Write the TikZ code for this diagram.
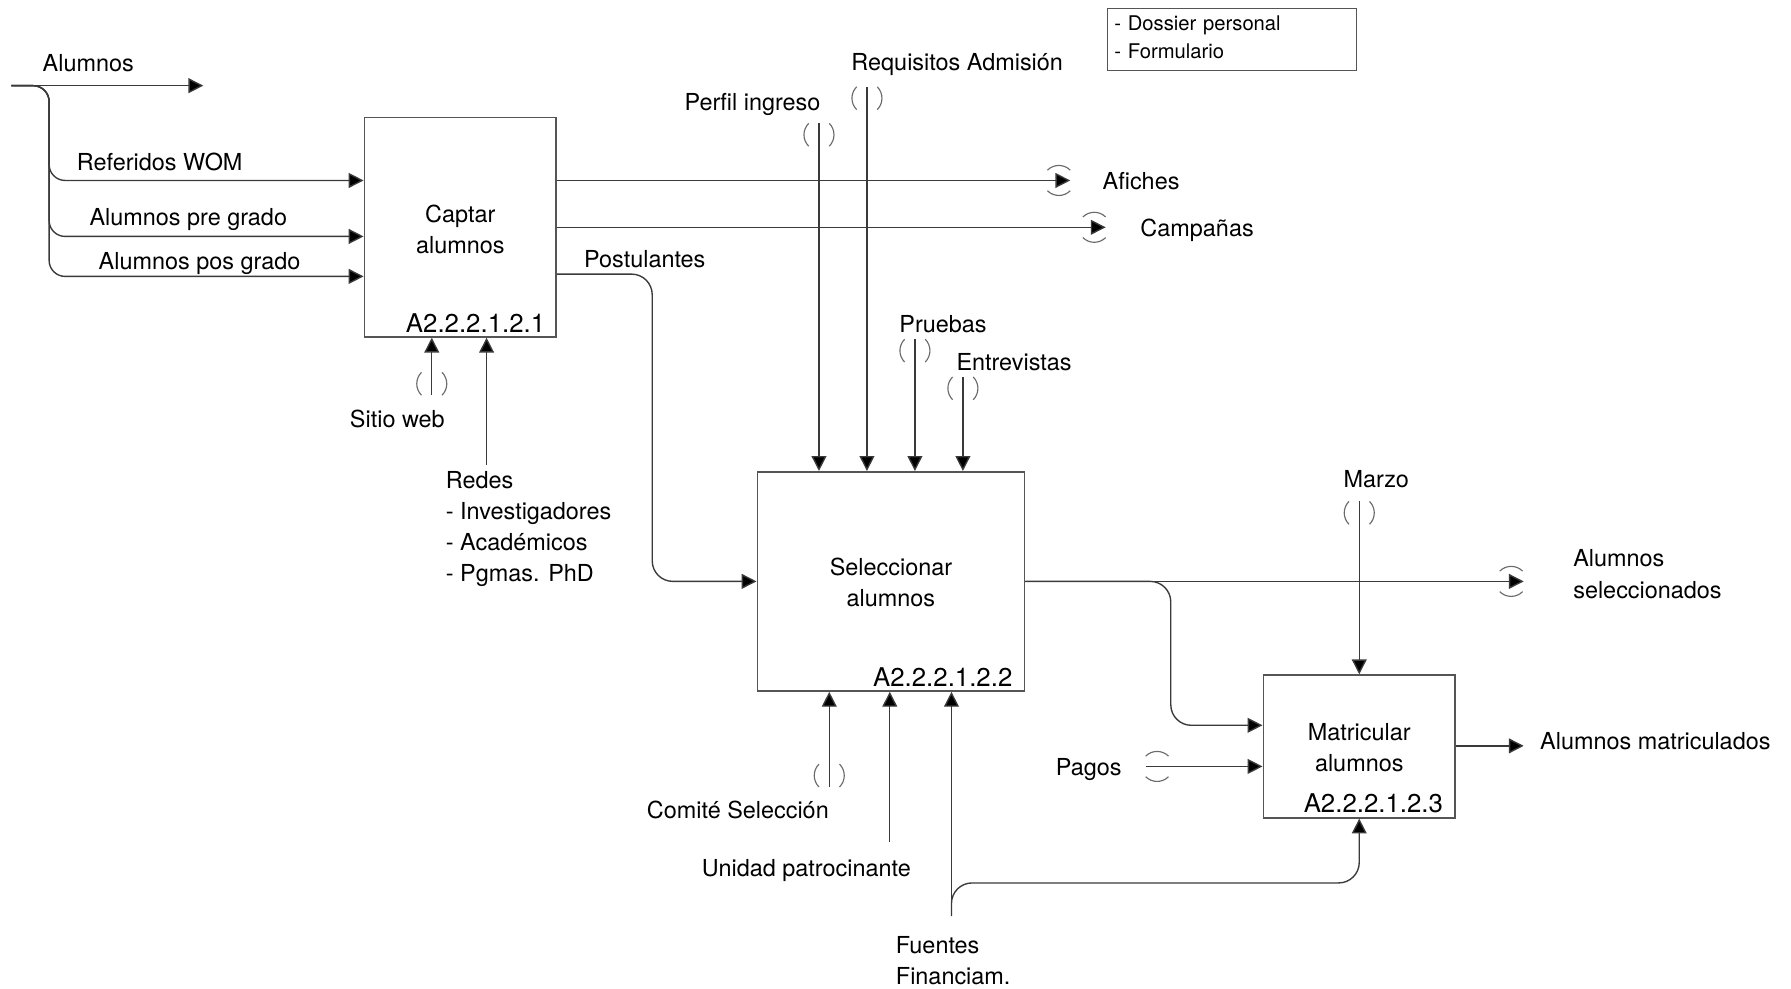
\documentclass[tikz,border=0pt]{standalone}
\usepackage{fontspec}
\setmainfont{TeX Gyre Heros}
\usetikzlibrary{arrows.meta}

\definecolor{linegray}{HTML}{3A3A3A}
\definecolor{boxgray}{HTML}{555555}
\definecolor{tungray}{HTML}{6A6A6A}

% tunnel marks: vertical arrow end (x, top y) and horizontal arrow end (centre x, y)
\newcommand\vtunnel[2]{%
  \draw[tun] (#1-9,#2) to[bend right=45] (#1-9,#2+20);
  \draw[tun] (#1+9,#2) to[bend left=45] (#1+9,#2+20);}
\newcommand\htunnel[2]{%
  \draw[tun] (#1-10,#2-9) to[bend left=45] (#1+10,#2-9);
  \draw[tun] (#1-10,#2+9) to[bend right=45] (#1+10,#2+9);}

\begin{document}
\begin{tikzpicture}[x=0.5pt, y=-0.5pt,
  every node/.style={font=\fontsize{10.25}{13.6}\selectfont, inner sep=0pt, text=black},
  lbl/.style={anchor=base west, yshift=-0.5pt},
  mlbl/.style={anchor=north west, align=left, yshift=-0.5pt},
  proc/.style={draw=boxgray, line width=0.7pt, align=center},
  idlbl/.style={anchor=base east, font=\fontsize{11.3}{13.6}\selectfont},
  flow/.style={draw=linegray, line width=0.6pt,
    -{Triangle[length=6.5pt,width=6.5pt,fill=black]}},
  tun/.style={draw=tungray, line width=0.5pt}
]
\useasboundingbox (0,0) rectangle (1568,865);

% activity boxes
\node[proc, minimum width=84pt, minimum height=96pt] (cap) at (403,199) {\rule{0pt}{9.4pt}Captar\\alumnos};
\node[proc, minimum width=117pt, minimum height=96pt] (sel) at (780,509) {\rule{0pt}{8.6pt}Seleccionar\\alumnos};
\node[proc, minimum width=84pt, minimum height=62.5pt] (mat) at (1190,653.5) {\rule{0pt}{8.6pt}Matricular\\alumnos};

\node[idlbl] (capid) at ([shift={(-10,-4.5)}]cap.south east) {A2.2.2.1.2.1};
\node[idlbl] (selid) at ([shift={(-11,-5)}]sel.south east) {A2.2.2.1.2.2};
\node[idlbl] (matid) at ([shift={(-11,-5)}]mat.south east) {A2.2.2.1.2.3};

% note box
\node[draw=boxgray, line width=0.6pt, anchor=north west, minimum width=109pt,
  minimum height=27pt, inner xsep=3pt, text width=103pt, align=left,
  font=\fontsize{8.85}{12.5}\selectfont] (dossier) at (969,7)
  {- Dossier personal\\- Formulario\rule[-2pt]{0pt}{0pt}};

% free ends
\coordinate (alin) at (10,75);
\coordinate (alout) at (178,75);
\coordinate (afo) at (937,158);
\coordinate (cao) at (968,199);
\coordinate (perf) at (717,108);
\coordinate (req) at (759,76);
\coordinate (prue) at (801,297);
\coordinate (entr) at (843,330);
\coordinate (web) at (378,346);
\coordinate (redes) at (426,407);
\coordinate (comi) at (726,689);
\coordinate (unid) at (779,737);
\coordinate (fuen) at (833,802);
\coordinate (aselo) at (1334,509);
\coordinate (marz) at (1190,439);
\coordinate (pag) at (1003,671);
\coordinate (mato) at (1334,653);

% inputs of Captar alumnos
\draw[flow] (alin) -- (alout);
\draw[flow, rounded corners=7pt] (alin) -| (43,158) -- (cap.west |- 0,158);
\draw[flow, rounded corners=7pt] (alin) -| (43,207) -- (cap.west |- 0,207);
\draw[flow, rounded corners=7pt] (alin) -| (43,242) -- (cap.west |- 0,242);

% outputs of Captar alumnos
\draw[flow] (cap.east |- afo) -- (afo);
\draw[flow] (cap.east |- cao) -- (cao);
\draw[flow, rounded corners=9pt] (cap.east |- 0,240) -| (571,509) -- (sel.west);

% controls of Seleccionar alumnos
\draw[flow] (perf) -- (sel.north -| perf);
\draw[flow] (req) -- (sel.north -| req);
\draw[flow] (prue) -- (sel.north -| prue);
\draw[flow] (entr) -- (sel.north -| entr);

% mechanisms of Captar alumnos
\draw[flow] (web) -- (cap.south -| web);
\draw[flow] (redes) -- (cap.south -| redes);

% mechanisms of Seleccionar alumnos
\draw[flow] (comi) -- (sel.south -| comi);
\draw[flow] (unid) -- (sel.south -| unid);
\draw[flow] (fuen) -- (sel.south -| fuen);
\draw[flow, rounded corners=9pt] (fuen) |- (1190,773) -- (mat.south);

% outputs of Seleccionar alumnos
\draw[flow] (sel.east) -- (aselo);
\draw[flow, rounded corners=9pt] (sel.east) -| (1025,635) -- (mat.west |- 0,635);

% Matricular alumnos
\draw[flow] (marz) -- (mat.north);
\draw[flow] (pag) -- (mat.west |- pag);
\draw[flow] (mat.east |- mato) -- (mato);

% tunnels
\vtunnel{717}{108}
\vtunnel{759}{76}
\vtunnel{801}{297}
\vtunnel{843}{330}
\vtunnel{378}{326}
\vtunnel{726}{669}
\vtunnel{1190}{439}
\htunnel{927}{158}
\htunnel{958}{199}
\htunnel{1323}{509}
\htunnel{1013}{671}

% arrow labels
\node[lbl] (lalum) at (37,62) {Alumnos};
\node[lbl] (lref) at (67,148) {Referidos WOM};
\node[lbl] (lpre) at (78,196) {Alumnos pre grado};
\node[lbl] (lpos) at (86,235) {Alumnos pos grado};
\node[lbl] (lpost) at (511,233) {Postulantes};
\node[lbl] (lperf) at (599,96) {Perfil ingreso};
\node[lbl] (lreq) at (745,61) {Requisitos Admisión};
\node[lbl] (lafi) at (965,165) {Afiches};
\node[lbl] (lcam) at (998,206) {Campañas};
\node[lbl] (lprue) at (787,290) {Pruebas};
\node[lbl] (lentr) at (837,323) {Entrevistas};
\node[lbl] (lweb) at (306,373) {Sitio web};
\node[mlbl] (lredes) at (390,411) {Redes\\- Investigadores\\- Académicos\\- Pgmas. PhD};
\node[lbl] (lmarz) at (1176,426) {Marzo};
\node[mlbl] (lasel) at (1377,480) {Alumnos\\seleccionados};
\node[lbl] (lpag) at (924,678) {Pagos};
\node[lbl] (lmat) at (1348,655) {Alumnos matriculados};
\node[lbl] (lcomi) at (566,716) {Comité Selección};
\node[lbl] (lunid) at (614,766) {Unidad patrocinante};
\node[mlbl] (lfuen) at (784,818) {Fuentes\\Financiam.};
\end{tikzpicture}
\end{document}
